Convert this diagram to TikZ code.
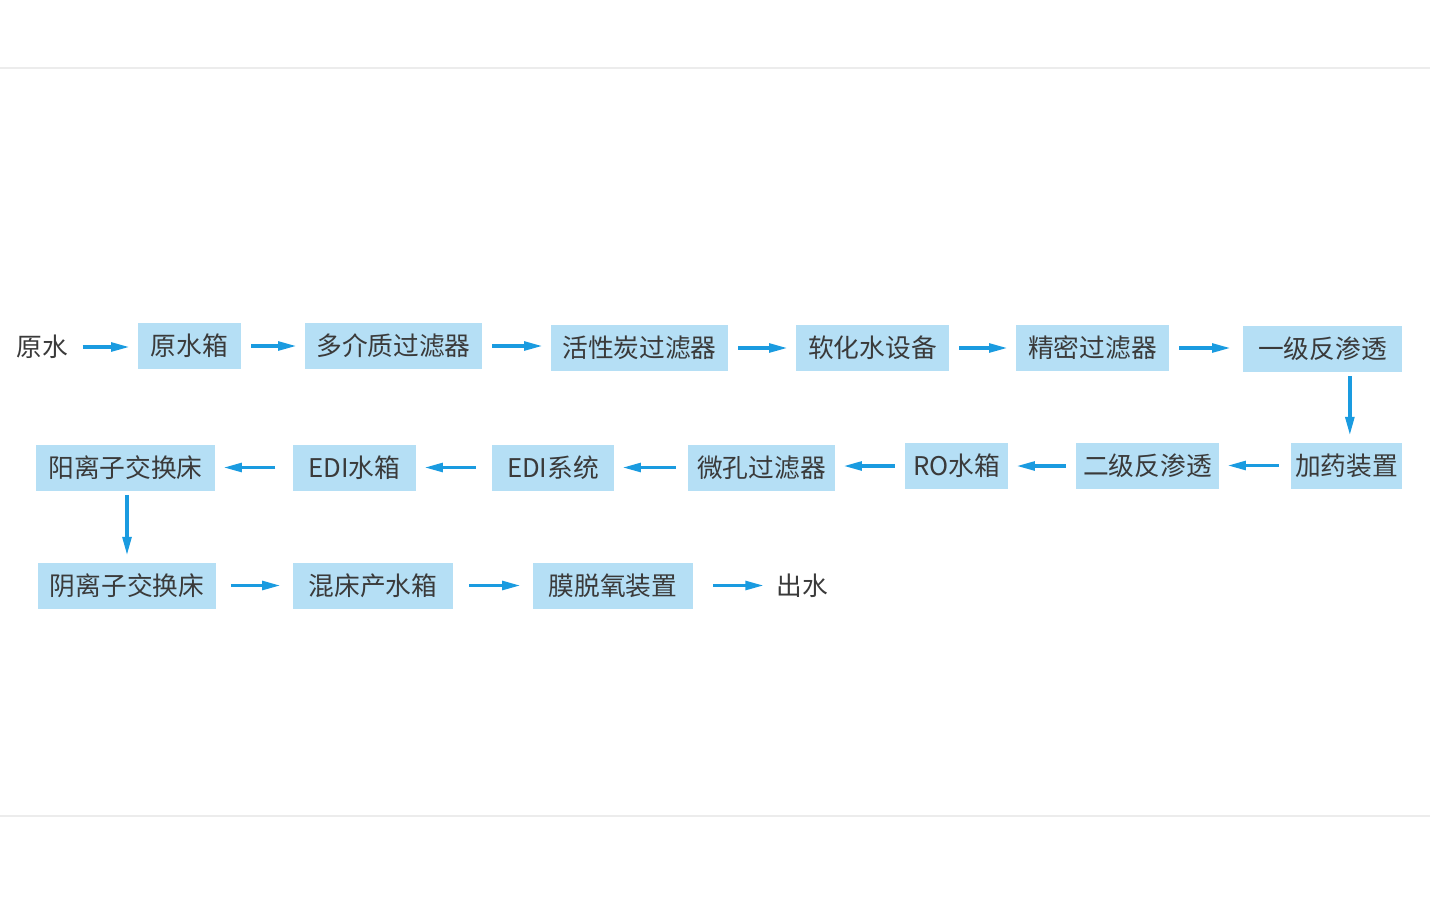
\documentclass[tikz,border=0pt]{standalone}
\usepackage{fontspec}
\setmainfont{Noto Sans CJK SC}
\usetikzlibrary{arrows.meta}
\definecolor{boxfill}{HTML}{B5DFF5}
\definecolor{arr}{HTML}{1A9BE0}
\definecolor{txt}{HTML}{3A3A3A}
\definecolor{rule}{HTML}{ECECEC}
\begin{document}
\begin{tikzpicture}[x=0.75pt,y=-0.75pt,
  every node/.style={font=\fontsize{19.3}{22}\selectfont, text=txt, inner sep=0pt},
  box/.style={fill=boxfill, minimum width=#1*0.75pt, minimum height=34.5pt},
  flow/.style={draw=arr, line width=2.6pt, -{Triangle[length=14pt,width=6.5pt]},
    shorten <=7.5pt, shorten >=6pt},
  vflow/.style={draw=arr, line width=2.6pt, -{Triangle[length=14pt,width=6.5pt]},
    shorten <=3pt, shorten >=5pt},
  sep/.style={draw=rule, line width=0.9pt}]
\useasboundingbox (0,0) rectangle (1430,900);
\coordinate (tl) at (0,68);
\coordinate (tr) at (1430,68);
\coordinate (bl) at (0,816);
\coordinate (br) at (1430,816);
\draw[sep] (tl) -- (tr);
\draw[sep] (bl) -- (br);

% row 1
\node (in) at (42,347) {原水};
\node[box=103] (b1) at (189.5,346) {原水箱};
\node[box=177] (b2) at (393.5,346) {多介质过滤器};
\node[box=177] (b3) at (639.5,348) {活性炭过滤器};
\node[box=153] (b4) at (872.5,348) {软化水设备};
\node[box=153] (b5) at (1092.5,348) {精密过滤器};
\node[box=159] (b6) at (1322.5,349) {一级反渗透};
% row 2
\node[box=111] (b7) at (1346.5,465.5) {加药装置};
\node[box=143] (b8) at (1147.5,466) {二级反渗透};
\node[box=103] (b9) at (956.5,466) {RO水箱};
\node[box=147] (b10) at (761.5,467.5) {微孔过滤器};
\node[box=122] (b11) at (553,467.5) {EDI系统};
\node[box=123] (b12) at (354.5,467.5) {EDI水箱};
\node[box=179] (b13) at (125.5,467.5) {阳离子交换床};
% row 3
\node[box=178] (b14) at (127,585.5) {阴离子交换床};
\node[box=160] (b15) at (373,585.5) {混床产水箱};
\node[box=160] (b16) at (613,585.5) {膜脱氧装置};
\node (out) at (802,586) {出水};

% connectors
\draw[flow, shorten <=11pt] (in.east) -- (in.east -| b1.west);
\draw[flow] (b1.east) -- (b1.east -| b2.west);
\draw[flow] (b2.east) -- (b2.east -| b3.west);
\draw[flow] (b3.east) -- (b3.east -| b4.west);
\draw[flow] (b4.east) -- (b4.east -| b5.west);
\draw[flow, shorten >=9pt] (b5.east) -- (b5.east -| b6.west);
\draw[vflow] ([xshift=2.5pt]b6.south -| b7.north) -- ([xshift=2.5pt]b7.north);
\draw[flow, shorten <=9pt] (b7.west) -- (b7.west -| b8.east);
\draw[flow] (b8.west) -- (b8.west -| b9.east);
\draw[flow] (b9.west) -- (b9.west -| b10.east);
\draw[flow, shorten <=9pt] (b10.west) -- (b10.west -| b11.east);
\draw[flow, shorten <=12pt] (b11.west) -- (b11.west -| b12.east);
\draw[flow, shorten <=13pt] (b12.west) -- (b12.west -| b13.east);
\draw[vflow] (b13.south -| b14.north) -- (b14.north);
\draw[flow, shorten <=11pt, shorten >=9pt] (b14.east) -- (b14.east -| b15.west);
\draw[flow, shorten <=12pt, shorten >=9pt] (b15.east) -- (b15.east -| b16.west);
\draw[flow, shorten <=15pt, shorten >=9pt] (b16.east) -- (b16.east -| out.west);
\end{tikzpicture}
\end{document}
